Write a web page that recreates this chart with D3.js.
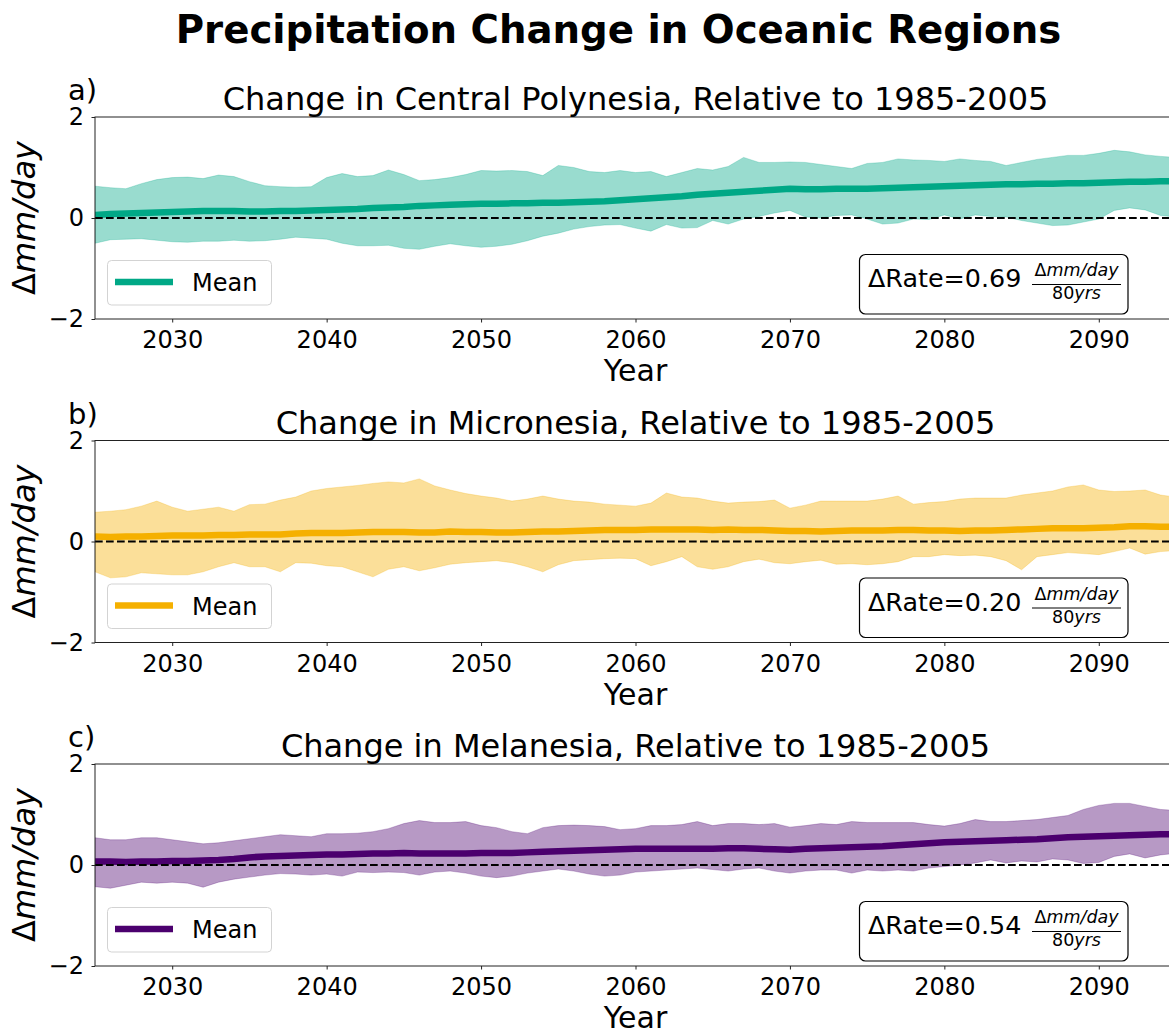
<!DOCTYPE html>
<html>
<head>
<meta charset="utf-8">
<script src="https://cdn.jsdelivr.net/npm/d3@7"></script>
<style>
  body { margin: 0; background: #fff; }
  svg { display: block; }
  text { font-family: "DejaVu Sans", sans-serif; fill: #000; }
</style>
</head>
<body>
<svg id="chart" width="1169" height="1031"></svg>
<script>
// ---- data: yearly ensemble range and mean, mm/day change vs 1985-2005 ----
const years = d3.range(2025, 2096);

const upperA = [0.63,0.60,0.58,0.68,0.76,0.80,0.81,0.78,0.85,0.82,
  0.72,0.64,0.62,0.61,0.62,0.80,0.88,0.82,0.84,0.95,
  0.86,0.74,0.76,0.80,0.86,0.94,0.93,0.94,0.92,0.84,
  1.04,1.00,0.92,0.90,0.94,0.90,0.92,0.82,0.90,0.98,
  0.95,1.02,1.20,1.10,1.10,1.11,1.10,1.06,1.02,0.98,
  1.08,1.10,1.17,1.15,1.14,1.12,1.17,1.14,1.12,1.04,
  1.10,1.16,1.20,1.24,1.24,1.28,1.34,1.31,1.25,1.22,
  1.20];
const lowerA = [-0.50,-0.43,-0.42,-0.41,-0.44,-0.47,-0.48,-0.46,-0.46,-0.44,
  -0.46,-0.45,-0.42,-0.38,-0.40,-0.42,-0.50,-0.55,-0.55,-0.54,
  -0.60,-0.62,-0.56,-0.51,-0.55,-0.58,-0.56,-0.52,-0.45,-0.36,
  -0.30,-0.22,-0.17,-0.14,-0.13,-0.20,-0.26,-0.13,-0.20,-0.19,
  -0.05,-0.12,-0.02,0.03,0.10,0.15,0.02,0.00,0.05,0.06,
  -0.02,-0.12,-0.10,-0.02,-0.03,0.06,-0.02,0.06,0.03,0.02,
  -0.05,-0.10,-0.15,-0.14,-0.08,-0.02,0.15,0.20,0.16,0.05,
  0.02];
const meanA = [0.06,0.08,0.09,0.10,0.11,0.12,0.13,0.14,0.14,0.14,
  0.13,0.13,0.14,0.14,0.15,0.16,0.17,0.18,0.20,0.21,
  0.22,0.24,0.25,0.26,0.27,0.28,0.28,0.29,0.29,0.30,
  0.30,0.31,0.32,0.33,0.35,0.37,0.39,0.41,0.43,0.46,
  0.48,0.50,0.52,0.54,0.56,0.58,0.57,0.57,0.58,0.58,
  0.58,0.59,0.60,0.61,0.62,0.63,0.64,0.65,0.66,0.67,
  0.67,0.68,0.68,0.69,0.69,0.70,0.71,0.72,0.72,0.73,
  0.73];

const upperB = [0.58,0.60,0.63,0.70,0.80,0.68,0.60,0.64,0.68,0.60,
  0.73,0.74,0.82,0.88,1.00,1.05,1.08,1.11,1.15,1.18,
  1.16,1.24,1.10,1.02,0.95,0.90,0.86,0.80,0.84,0.90,
  0.84,0.80,0.78,0.74,0.72,0.70,0.76,0.96,0.88,0.86,
  0.80,0.76,0.78,0.79,0.82,0.66,0.72,0.80,0.80,0.80,
  0.80,0.84,0.90,0.74,0.77,0.79,0.84,0.86,0.86,0.86,
  0.92,0.96,1.00,1.08,1.12,1.02,0.99,1.00,1.02,0.92,
  0.88];
const lowerB = [-0.60,-0.72,-0.70,-0.62,-0.64,-0.66,-0.66,-0.60,-0.50,-0.42,
  -0.50,-0.50,-0.60,-0.42,-0.43,-0.48,-0.50,-0.60,-0.70,-0.55,
  -0.50,-0.58,-0.52,-0.45,-0.42,-0.40,-0.38,-0.42,-0.50,-0.60,
  -0.46,-0.38,-0.36,-0.34,-0.33,-0.34,-0.48,-0.40,-0.30,-0.50,
  -0.55,-0.50,-0.40,-0.35,-0.42,-0.44,-0.40,-0.37,-0.45,-0.44,
  -0.46,-0.44,-0.40,-0.30,-0.30,-0.26,-0.28,-0.27,-0.30,-0.38,
  -0.56,-0.30,-0.26,-0.22,-0.24,-0.26,-0.20,-0.13,-0.25,-0.20,
  -0.18];
const meanB = [0.10,0.09,0.10,0.10,0.11,0.12,0.12,0.12,0.13,0.13,
  0.14,0.14,0.14,0.16,0.17,0.17,0.17,0.18,0.19,0.19,
  0.19,0.18,0.18,0.20,0.19,0.19,0.18,0.18,0.19,0.20,
  0.20,0.21,0.22,0.23,0.23,0.23,0.24,0.24,0.24,0.24,
  0.23,0.24,0.23,0.23,0.22,0.21,0.21,0.20,0.21,0.22,
  0.22,0.22,0.23,0.23,0.22,0.22,0.21,0.22,0.22,0.23,
  0.24,0.25,0.26,0.26,0.26,0.27,0.28,0.30,0.30,0.29,
  0.29];

const upperC = [0.54,0.50,0.50,0.54,0.54,0.50,0.46,0.42,0.44,0.48,
  0.52,0.56,0.60,0.58,0.56,0.62,0.62,0.63,0.66,0.72,
  0.82,0.88,0.84,0.84,0.86,0.78,0.74,0.66,0.62,0.74,
  0.78,0.79,0.78,0.76,0.70,0.72,0.78,0.78,0.80,0.86,
  0.78,0.82,0.82,0.80,0.82,0.75,0.78,0.82,0.80,0.86,
  0.84,0.84,0.84,0.84,0.80,0.77,0.82,0.90,0.86,0.86,
  0.88,0.90,0.94,0.98,1.10,1.18,1.22,1.22,1.16,1.10,
  1.08];
const lowerC = [-0.43,-0.46,-0.40,-0.34,-0.36,-0.34,-0.36,-0.44,-0.34,-0.28,
  -0.24,-0.20,-0.17,-0.18,-0.20,-0.18,-0.22,-0.14,-0.15,-0.14,
  -0.15,-0.20,-0.14,-0.12,-0.16,-0.22,-0.25,-0.22,-0.16,-0.12,
  -0.08,-0.12,-0.18,-0.22,-0.20,-0.14,-0.12,-0.10,-0.08,-0.06,
  -0.09,-0.12,-0.08,-0.06,-0.12,-0.16,-0.12,-0.10,-0.10,-0.16,
  -0.10,-0.12,-0.10,-0.12,-0.06,-0.03,0.00,0.04,0.10,0.04,
  0.08,0.06,0.12,0.10,0.03,0.05,0.17,0.22,0.14,0.20,
  0.23];
const meanC = [0.07,0.07,0.06,0.07,0.07,0.08,0.08,0.09,0.10,0.12,
  0.15,0.17,0.18,0.19,0.20,0.21,0.21,0.22,0.23,0.23,
  0.24,0.23,0.23,0.23,0.23,0.24,0.24,0.24,0.25,0.26,
  0.27,0.28,0.29,0.30,0.31,0.32,0.32,0.32,0.32,0.32,
  0.32,0.33,0.33,0.32,0.31,0.30,0.32,0.33,0.34,0.35,
  0.36,0.37,0.39,0.41,0.43,0.45,0.46,0.47,0.48,0.49,
  0.50,0.51,0.53,0.55,0.56,0.57,0.58,0.59,0.60,0.61,
  0.61];

const regions = ["Central Polynesia", "Micronesia", "Melanesia"];
const panelLetters = ["a)", "b)", "c)"];
const rateValues = ["0.69", "0.20", "0.54"];
const seriesColors = ["#00A886", "#F5B000", "#4B006E"];
const xTickValues = [2030, 2040, 2050, 2060, 2070, 2080, 2090];
const yTickValues = [-2, 0, 2];

const panels = [
  { upper: upperA, lower: lowerA, mean: meanA },
  { upper: upperB, lower: lowerB, mean: meanB },
  { upper: upperC, lower: lowerC, mean: meanC }
];

// ---- layout ----
const svg = d3.select("#chart");
const left = 95, right = 1176, plotH = 202;
const panelTops = [117, 440.5, 764];

const x = d3.scaleLinear().domain([2025, 2095]).range([left, right]);

svg.append("text")
  .attr("x", 618.5).attr("y", 43)
  .attr("text-anchor", "middle")
  .style("font-size", "38.7px").style("font-weight", "bold")
  .text("Precipitation Change in Oceanic Regions");

panels.forEach((p, i) => {
  const top = panelTops[i];
  const y = d3.scaleLinear().domain([-2, 2]).range([top + plotH, top]);
  const color = seriesColors[i];
  const g = svg.append("g");

  const clipId = "clip" + i;
  g.append("clipPath").attr("id", clipId)
    .append("rect").attr("x", left).attr("y", top)
    .attr("width", right - left).attr("height", plotH);

  const rows = years.map((yr, k) => ({ yr, hi: p.upper[k], lo: p.lower[k], m: p.mean[k] }));
  const plot = g.append("g").attr("clip-path", `url(#${clipId})`);

  // ensemble spread
  plot.append("path").datum(rows)
    .attr("d", d3.area().x(d => x(d.yr)).y0(d => y(d.lo)).y1(d => y(d.hi)))
    .attr("fill", color).attr("fill-opacity", 0.4)
    .attr("stroke", color).attr("stroke-opacity", 0.25).attr("stroke-width", 1);

  // ensemble mean
  plot.append("path").datum(rows)
    .attr("d", d3.line().x(d => x(d.yr)).y(d => y(d.m)))
    .attr("fill", "none").attr("stroke", color).attr("stroke-width", 6.5);

  // zero reference
  plot.append("line")
    .attr("x1", left).attr("x2", right)
    .attr("y1", y(0)).attr("y2", y(0))
    .attr("stroke", "#000").attr("stroke-width", 1.8)
    .attr("stroke-dasharray", "7.7,3.3");

  // axes
  const xAxis = g.append("g").attr("transform", `translate(0,${top + plotH})`)
    .call(d3.axisBottom(x).tickValues(xTickValues).tickFormat(d3.format("d"))
      .tickSize(3.5).tickPadding(8.5));
  const yAxis = g.append("g").attr("transform", `translate(${left},0)`)
    .call(d3.axisLeft(y).tickValues(yTickValues).tickFormat(d3.format("d"))
      .tickSize(3.5).tickPadding(7.5));
  [xAxis, yAxis].forEach(a => {
    a.select(".domain").remove();
    a.selectAll("text").style("font-size", "24px").style("font-family", "DejaVu Sans");
    a.selectAll("line").attr("stroke", "#222").attr("stroke-width", 1);
  });

  g.append("rect")
    .attr("x", left).attr("y", top).attr("width", right - left).attr("height", plotH)
    .attr("fill", "none").attr("stroke", "#222").attr("stroke-width", 1);

  // titles and labels
  g.append("text").attr("x", (left + right) / 2).attr("y", top - 7)
    .attr("text-anchor", "middle").style("font-size", "32px")
    .text(`Change in ${regions[i]}, Relative to 1985-2005`);
  g.append("text").attr("x", 68).attr("y", top - 17)
    .style("font-size", "29px").text(panelLetters[i]);
  g.append("text").attr("x", (left + right) / 2).attr("y", top + plotH + 62)
    .attr("text-anchor", "middle").style("font-size", "30px").text("Year");
  const yl = g.append("text")
    .attr("transform", `translate(35,${top + plotH / 2}) rotate(-90)`)
    .attr("text-anchor", "middle").style("font-size", "32px");
  yl.append("tspan").text("Δ");
  yl.append("tspan").style("font-style", "italic").text("mm/day");

  // legend
  const lg = g.append("g").attr("transform", `translate(0,${top})`);
  lg.append("rect").attr("x", 107.5).attr("y", 143.5).attr("width", 164).attr("height", 44.5)
    .attr("rx", 4).attr("fill", "#fff").attr("fill-opacity", 0.8)
    .attr("stroke", "#d3d3d3").attr("stroke-width", 1);
  lg.append("line").attr("x1", 115).attr("x2", 173).attr("y1", 165).attr("y2", 165)
    .attr("stroke", color).attr("stroke-width", 6.5);
  lg.append("text").attr("x", 192).attr("y", 174).style("font-size", "24px").text("Mean");

  // rate annotation
  const rg = g.append("g").attr("transform", `translate(0,${top})`);
  rg.append("rect").attr("x", 859.5).attr("y", 137.5).attr("width", 268.5).attr("height", 59.5)
    .attr("rx", 6).attr("fill", "#fff").attr("stroke", "#000").attr("stroke-width", 1.2);
  rg.append("text").attr("x", 868).attr("y", 170).style("font-size", "25.4px")
    .text(`ΔRate=${rateValues[i]}`);
  const num = rg.append("text").attr("x", 1076.5).attr("y", 159)
    .attr("text-anchor", "middle").style("font-size", "17.5px");
  num.append("tspan").text("Δ");
  num.append("tspan").style("font-style", "italic").text("mm/day");
  rg.append("line").attr("x1", 1032).attr("x2", 1121).attr("y1", 167.5).attr("y2", 167.5)
    .attr("stroke", "#000").attr("stroke-width", 1);
  const den = rg.append("text").attr("x", 1076.5).attr("y", 182)
    .attr("text-anchor", "middle").style("font-size", "17.5px");
  den.append("tspan").text("80");
  den.append("tspan").style("font-style", "italic").text("yrs");
});
</script>
</body>
</html>
